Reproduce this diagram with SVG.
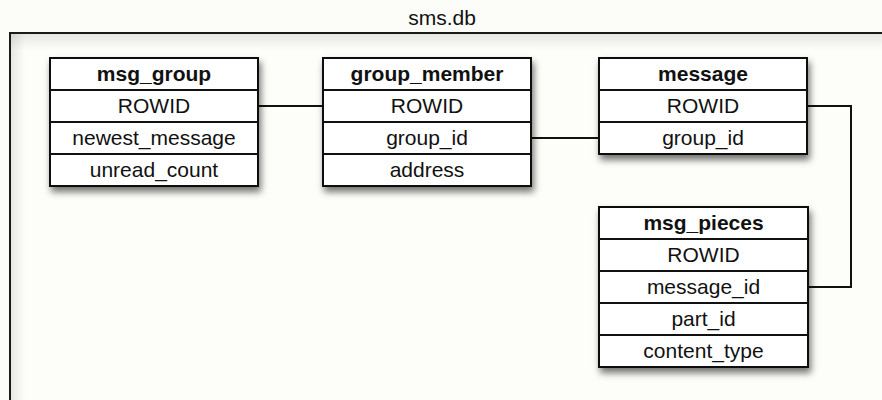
<svg xmlns="http://www.w3.org/2000/svg" width="882" height="400" viewBox="0 0 882 400">
  <defs>
    <filter id="shadow" x="-10%" y="-10%" width="130%" height="140%">
      <feDropShadow dx="2" dy="5" stdDeviation="3.5" flood-color="#000" flood-opacity="0.55"/>
    </filter>
    <linearGradient id="innerTop" x1="0" y1="0" x2="0" y2="1">
      <stop offset="0" stop-color="#000" stop-opacity="0.09"/>
      <stop offset="1" stop-color="#000" stop-opacity="0"/>
    </linearGradient>
    <linearGradient id="innerLeft" x1="0" y1="0" x2="1" y2="0">
      <stop offset="0" stop-color="#000" stop-opacity="0.09"/>
      <stop offset="1" stop-color="#000" stop-opacity="0"/>
    </linearGradient>
  </defs>
  <style>
    .tbl rect { fill: #ffffff; stroke: #111; stroke-width: 2; }
    .tbl line { stroke: #111; stroke-width: 2; }
    .tbl text { font-family: "Liberation Sans", Arial, sans-serif; font-size: 21px; fill: #111; text-anchor: middle; }
    .tbl text.head { font-weight: bold; }
    #connectors path { fill: none; stroke: #111; stroke-width: 2; }
    .title { font-family: "Liberation Sans", Arial, sans-serif; font-size: 21px; fill: #111; text-anchor: middle; }
  </style>

  <!-- page background -->
  <rect x="0" y="0" width="882" height="400" fill="#fcfcf8"/>

  <text class="title" x="442" y="25">sms.db</text>

  <!-- database frame with soft inner shading -->
  <g id="frame">
    <rect x="10" y="33" width="900" height="400" fill="#fdfdf9"/>
    <rect x="11" y="34" width="900" height="16" fill="url(#innerTop)"/>
    <rect x="11" y="34" width="14" height="400" fill="url(#innerLeft)"/>
    <rect x="10" y="33" width="900" height="400" fill="none" stroke="#1a1a1a" stroke-width="2"/>
  </g>

  <!-- connectors -->
  <g id="connectors">
    <path d="M258 106 H323"/>
    <path d="M531 138 H599"/>
    <path d="M807 106 H851 V287 H808"/>
  </g>

  <!-- msg_group -->
  <g id="msg_group" class="tbl">
    <rect x="50" y="58" width="208" height="128" filter="url(#shadow)"/>
    <line x1="50" y1="90" x2="258" y2="90"/>
    <line x1="50" y1="122" x2="258" y2="122"/>
    <line x1="50" y1="154" x2="258" y2="154"/>
    <text class="head" x="154" y="81">msg_group</text>
    <text x="154" y="113">ROWID</text>
    <text x="154" y="145">newest_message</text>
    <text x="154" y="177">unread_count</text>
  </g>

  <!-- group_member -->
  <g id="group_member" class="tbl">
    <rect x="323" y="58" width="208" height="128" filter="url(#shadow)"/>
    <line x1="323" y1="90" x2="531" y2="90"/>
    <line x1="323" y1="122" x2="531" y2="122"/>
    <line x1="323" y1="154" x2="531" y2="154"/>
    <text class="head" x="427" y="81">group_member</text>
    <text x="427" y="113">ROWID</text>
    <text x="427" y="145">group_id</text>
    <text x="427" y="177">address</text>
  </g>

  <!-- message -->
  <g id="message" class="tbl">
    <rect x="599" y="58" width="208" height="96" filter="url(#shadow)"/>
    <line x1="599" y1="90" x2="807" y2="90"/>
    <line x1="599" y1="122" x2="807" y2="122"/>
    <text class="head" x="703" y="81">message</text>
    <text x="703" y="113">ROWID</text>
    <text x="703" y="145">group_id</text>
  </g>

  <!-- msg_pieces -->
  <g id="msg_pieces" class="tbl">
    <rect x="599" y="207" width="209" height="160" filter="url(#shadow)"/>
    <line x1="599" y1="239" x2="808" y2="239"/>
    <line x1="599" y1="271" x2="808" y2="271"/>
    <line x1="599" y1="303" x2="808" y2="303"/>
    <line x1="599" y1="335" x2="808" y2="335"/>
    <text class="head" x="703.5" y="230">msg_pieces</text>
    <text x="703.5" y="262">ROWID</text>
    <text x="703.5" y="294">message_id</text>
    <text x="703.5" y="326">part_id</text>
    <text x="703.5" y="358">content_type</text>
  </g>
</svg>
